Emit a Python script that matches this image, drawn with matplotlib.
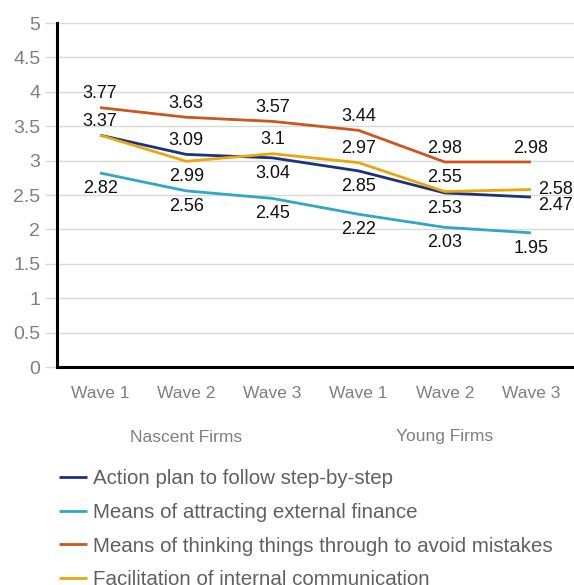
import matplotlib.pyplot as plt
import matplotlib.transforms as mtransforms

plt.rcParams["font.family"] = ["Liberation Sans", "DejaVu Sans"]

waves = ["Wave 1", "Wave 2", "Wave 3", "Wave 1", "Wave 2", "Wave 3"]
groups = ["Nascent Firms", "Young Firms"]

action_plan = [3.37, 3.09, 3.04, 2.85, 2.53, 2.47]
external_finance = [2.82, 2.56, 2.45, 2.22, 2.03, 1.95]
avoid_mistakes = [3.77, 3.63, 3.57, 3.44, 2.98, 2.98]
internal_comm = [3.37, 2.99, 3.1, 2.97, 2.55, 2.58]

series_names = [
    "Action plan to follow step-by-step",
    "Means of attracting external finance",
    "Means of thinking things through to avoid mistakes",
    "Facilitation of internal communication",
]

# label placement per point: "a" above, "b" below, "r" right, "n" hidden (overlaps)
action_pos = ["a", "a", "b", "b", "b", "r2"]
finance_pos = ["b", "b", "b", "b", "b", "b"]
mistakes_pos = ["a", "a", "a", "a", "a", "a"]
comm_pos = ["n", "b", "a", "a", "a", "r"]

colors = ["#1b3281", "#31a7c7", "#c9581f", "#e9a70c"]

fig = plt.figure(figsize=(5.74, 5.85), dpi=100)
ax = fig.add_axes([57 / 574, 1 - 367 / 585, 1 - 57 / 574, (367 - 23) / 585])

x = list(range(len(waves)))
all_series = [action_plan, external_finance, avoid_mistakes, internal_comm]
all_pos = [action_pos, finance_pos, mistakes_pos, comm_pos]

for vals, pos, color, name in zip(all_series, all_pos, colors, series_names):
    ax.plot(x, vals, color=color, lw=2.0, label=name, solid_capstyle="butt")
    for xi, v, p in zip(x, vals, pos):
        if p == "n":
            continue
        if p == "a":
            off, ha = (0, 10), "center"
        elif p == "b":
            off, ha = (0, -11), "center"
        elif p == "r":
            off, ha = (5, 0), "left"
        else:
            off, ha = (5, -6), "left"
        ax.annotate(f"{v:g}", (xi, v), xytext=off, textcoords="offset points",
                    ha=ha, va="center", fontsize=13, color="#111111")

ax.set_xlim(-0.5, 5.5)
ax.set_ylim(0, 5)
ax.set_yticks([i * 0.5 for i in range(11)])
ax.set_yticklabels([f"{i * 0.5:g}" for i in range(11)])
ax.set_xticks(x)
ax.set_xticklabels(waves)

ax.grid(axis="y", color="#d9d9d9", lw=1.0)
ax.set_axisbelow(True)
ax.tick_params(axis="y", length=9, width=1.0, color="#d9d9d9", pad=3,
               labelsize=14, labelcolor="#7f7f7f")
ax.tick_params(axis="x", length=0, pad=14, labelsize=12.5, labelcolor="#7f7f7f")

for side in ["top", "right"]:
    ax.spines[side].set_visible(False)
for side in ["left", "bottom"]:
    ax.spines[side].set_linewidth(2.2)
    ax.spines[side].set_color("black")

trans = mtransforms.blended_transform_factory(ax.transData, fig.transFigure)
ax.text(1, 1 - 437 / 585, groups[0], transform=trans, ha="center", va="center",
        fontsize=12.5, color="#7f7f7f")
ax.text(4, 1 - 437 / 585, groups[1], transform=trans, ha="center", va="center",
        fontsize=12.5, color="#7f7f7f")

fig.legend(loc="upper left", bbox_to_anchor=(59 / 574, 1 - 469 / 585),
           frameon=False, fontsize=14.8, handlelength=1.35, handletextpad=0.3,
           labelspacing=0.72, borderpad=0, borderaxespad=0, labelcolor="#606060")

fig.savefig("out.png", dpi=100)
